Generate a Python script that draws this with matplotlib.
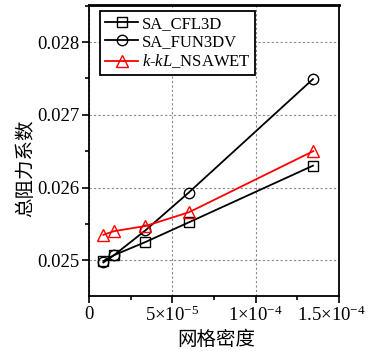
import matplotlib
matplotlib.use("Agg")
import matplotlib.pyplot as plt
import matplotlib.transforms as mtransforms
from matplotlib.ticker import MultipleLocator, FixedLocator, FixedFormatter

plt.rcParams['font.family'] = ['Liberation Serif', 'Noto Sans CJK SC']
plt.rcParams['mathtext.fontset'] = 'custom'
plt.rcParams['mathtext.rm'] = 'Liberation Serif'
plt.rcParams['mathtext.it'] = 'Liberation Serif:italic'

# grid density (x) and total drag coefficient (y)
x_cfl3d = [8.6e-6, 1.5e-5, 3.38e-5, 5.98e-5, 1.344e-4]
cd_cfl3d = [0.02499, 0.02507, 0.02525, 0.02552, 0.02630]

x_fun3dv = [8.6e-6, 1.5e-5, 3.38e-5, 5.98e-5, 1.344e-4]
cd_fun3dv = [0.02497, 0.02507, 0.02541, 0.02593, 0.02749]

x_kkl = [8.6e-6, 1.5e-5, 3.38e-5, 6.0e-5, 1.346e-4]
cd_kkl = [0.02535, 0.02540, 0.02547, 0.02566, 0.02650]

xtick_vals = [0, 5e-5, 1e-4, 1.5e-4]
xtick_labels = ['0', r'$\mathregular{5{\times}10^{-5}}$',
                r'$\mathregular{1{\times}10^{-4}}$',
                r'$\mathregular{1.5{\times}10^{-4}}$']
ytick_vals = [0.025, 0.026, 0.027, 0.028]

fig = plt.figure(figsize=(3.68, 3.51), dpi=100)
ax = fig.add_axes([0.242, 0.157, 0.679, 0.829])

ax.plot(x_cfl3d, cd_cfl3d, color='black', lw=1.3, marker='s', ms=6.5,
        mfc='none', mec='black', mew=1.0, label='SA_CFL3D', zorder=3)
ax.plot(x_fun3dv, cd_fun3dv, color='black', lw=1.3, marker='o', ms=7.5,
        mfc='none', mec='black', mew=1.0, label='SA_FUN3DV', zorder=3)
ax.plot(x_kkl, cd_kkl, color='red', lw=1.3, marker='^', ms=9,
        mfc='none', mec='red', mew=1.0, label=r'$k$-$kL$_NSAWET', zorder=4)

ax.set_xlim(0, 1.5e-4)
ax.set_ylim(0.02451, 0.02851)

ax.xaxis.set_major_locator(FixedLocator(xtick_vals))
ax.xaxis.set_major_formatter(FixedFormatter(xtick_labels))
ax.xaxis.set_minor_locator(MultipleLocator(2.5e-5))
ax.yaxis.set_major_locator(FixedLocator(ytick_vals))
ax.yaxis.set_major_formatter(FixedFormatter([f'{v:.3f}' for v in ytick_vals]))
ax.yaxis.set_minor_locator(MultipleLocator(0.0005))

ax.tick_params(which='major', direction='out', length=5, width=1.2,
               labelsize=13.5, colors='black', pad=2)
ax.tick_params(which='minor', direction='out', length=3, width=1.2)
ax.tick_params(axis='x', which='both', top=False)
ax.tick_params(axis='y', which='both', right=False)

# nudge the rightmost x tick label inward so it stays inside the figure
last_label = ax.get_xticklabels()[-1]
last_label.set_transform(last_label.get_transform() +
                         mtransforms.ScaledTranslation(-8 / 100, 0, fig.dpi_scale_trans))

for s in ax.spines.values():
    s.set_linewidth(1.3)
ax.spines['top'].set_linewidth(2.0)

ax.grid(True, which='major', color='#888888', ls=(0, (2, 2)), lw=0.8)

ax.set_xlabel('网格密度', family=['Noto Sans CJK SC'], fontsize=14)
ax.set_ylabel('总阻力系数', family=['Noto Sans CJK SC'], fontsize=14)
ax.xaxis.set_label_coords(0.51, -0.112)
ax.yaxis.set_label_coords(-0.21, 0.44)

leg = ax.legend(loc='upper left', bbox_to_anchor=(0.044, 0.98), fontsize=12,
                frameon=True, fancybox=False, edgecolor='black',
                handlelength=2.0, handletextpad=0.2, borderpad=0.3,
                labelspacing=0.15, borderaxespad=0)
leg.get_frame().set_linewidth(1.3)
leg.get_frame().set_alpha(1)

fig.savefig('out.png', dpi=100)
